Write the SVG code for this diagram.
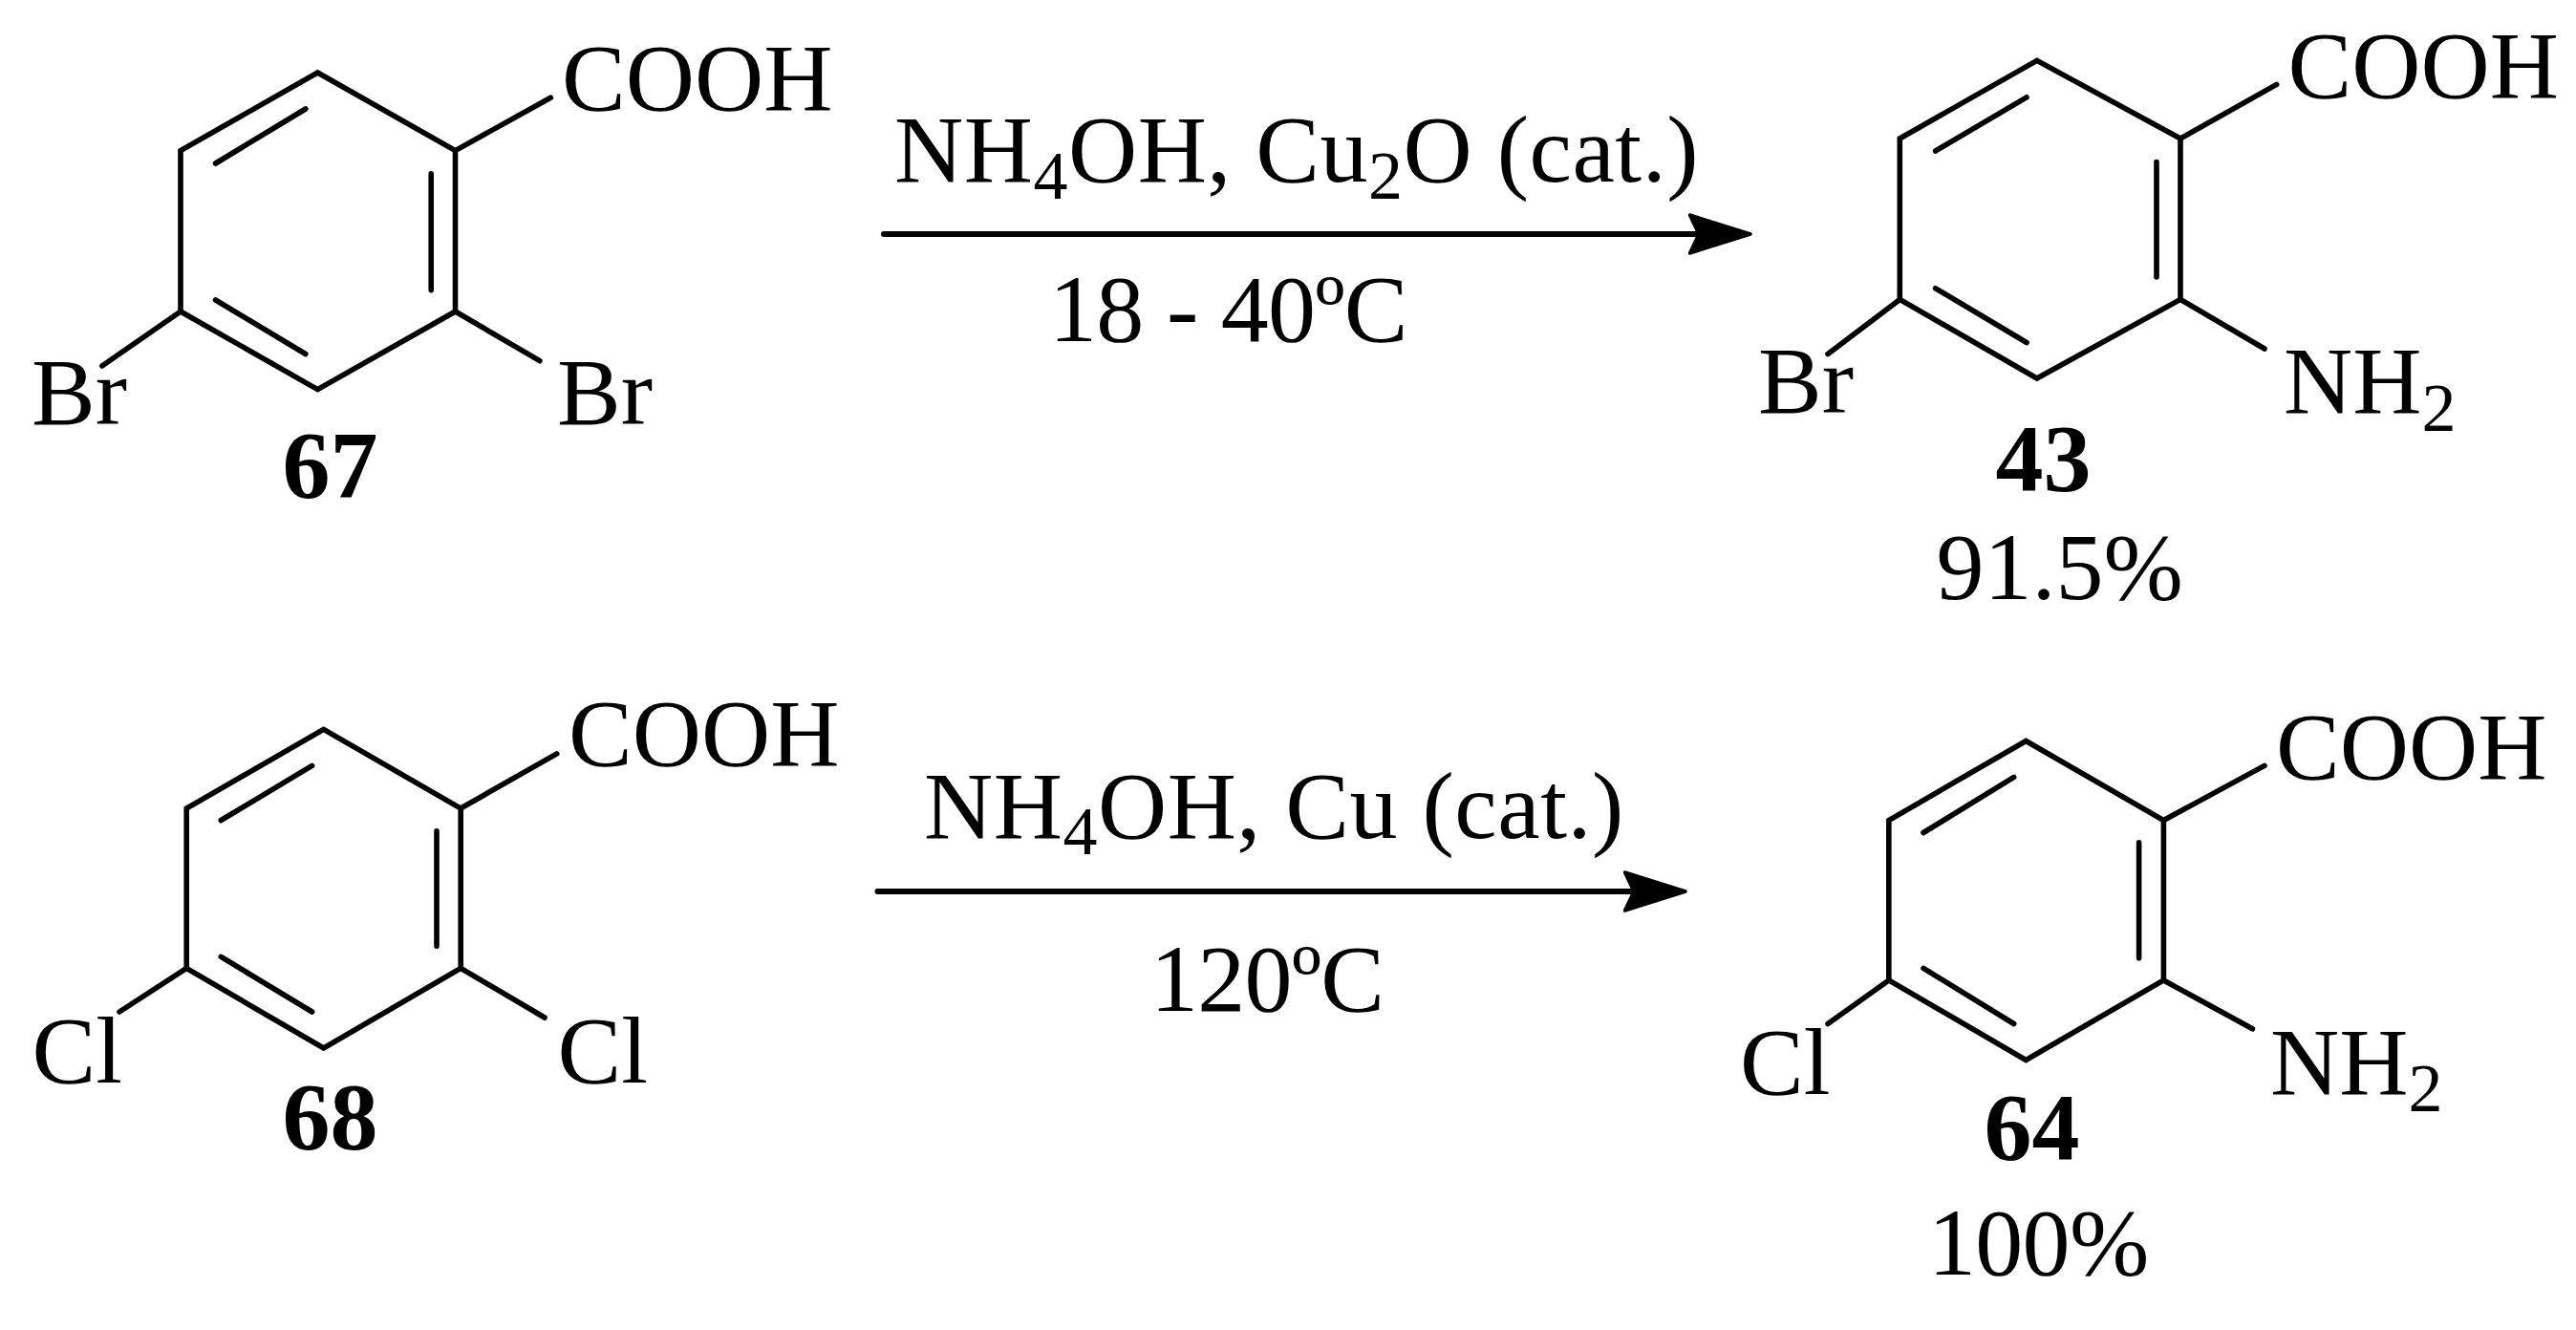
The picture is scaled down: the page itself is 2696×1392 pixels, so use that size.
<svg xmlns="http://www.w3.org/2000/svg" width="2696" height="1392" viewBox="0 0 2696 1392">
<style>
.bond{fill:none;stroke:#000;stroke-width:5.6;stroke-linecap:round;stroke-linejoin:miter}
.arrow{fill:none;stroke:#000;stroke-width:6;stroke-linecap:round}
text{font-family:"Liberation Serif","Times New Roman",serif;font-size:100px;fill:#000}
.b{font-weight:bold}
.s{font-size:72px}
.r{letter-spacing:.5px}
.t{letter-spacing:-.7px}
</style>
<defs>
<marker id="head" markerUnits="userSpaceOnUse" markerWidth="80" markerHeight="60" refX="11" refY="30" orient="auto" viewBox="0 0 80 60">
<path d="M1.5,10 L65,30 L1.5,50 L11,30 Z" fill="#000" stroke="#000" stroke-width="3.5" stroke-linejoin="round"/>
</marker>
</defs>
<rect width="2696" height="1392" fill="#fff"/>
<g id="connectors">
<line class="arrow" x1="925" y1="245" x2="1778" y2="245" marker-end="url(#head)"/>
<line class="arrow" x1="918.5" y1="933" x2="1710" y2="933" marker-end="url(#head)"/>
</g>
<g id="compound-67">
<path class="bond" d="M332.4,76 L476.5,157.6 L476.5,326 L332.4,407.6 L189,326 L189,157.6 Z"/>
<path class="bond" d="M319.8,114 L225.6,171 M451.2,181.7 L451.2,303.6 M225.6,314 L319.8,370.5 M476.5,157.6 L576.3,102.2 M189,326 L106.8,383 M476.5,326 L564.9,377.7"/>
<text x="588" y="115">COOH</text>
<text x="33" y="444">Br</text>
<text x="583" y="444">Br</text>
<text class="b" x="295.5" y="520">67</text>
</g>
<g id="reaction-1-labels">
<text class="r" x="936" y="190">NH<tspan class="s" dy="17.6">4</tspan><tspan dy="-17.6">OH, Cu</tspan><tspan class="s" dy="17.6">2</tspan><tspan dy="-17.6">O (cat.)</tspan></text>
<text class="t" x="1098" y="357">18 - 40ºC</text>
</g>
<g id="compound-43">
<path class="bond" d="M2131.8,63.4 L2282,145 L2282,313.4 L2131.8,396 L1988.3,313.4 L1988.3,145 Z"/>
<path class="bond" d="M2121,101.8 L2025.6,158 M2257,169.6 L2257,290 M2025.6,301.8 L2121,358.5 M2282,145 L2382.7,88.4 M1988.3,313.4 L1913,370.5 M2282,313.4 L2370,365"/>
<text x="2394.5" y="101.8">COOH</text>
<text x="1840" y="431.7">Br</text>
<text x="2390" y="431.7">NH<tspan class="s" dy="19">2</tspan></text>
<text class="b" x="2088.5" y="513.4">43</text>
<text x="2026.5" y="627">91.5%</text>
</g>
<g id="compound-68">
<path class="bond" d="M338.7,763.4 L482.2,846 L482.2,1013.4 L338.7,1097 L195.2,1013.4 L195.2,846 Z"/>
<path class="bond" d="M326.6,801.4 L231.3,858.5 M457,869.7 L457,990.2 M231.3,1001.4 L326.6,1059 M482.2,846 L582.7,788.9 M195.2,1013.4 L125,1059 M482.2,1013.4 L570,1065"/>
<text x="595" y="801.4">COOH</text>
<text x="33.5" y="1133">Cl</text>
<text x="583.5" y="1133">Cl</text>
<text class="b" x="295.5" y="1202">68</text>
</g>
<g id="reaction-2-labels">
<text class="r" x="967" y="877">NH<tspan class="s" dy="17">4</tspan><tspan dy="-17">OH, Cu (cat.)</tspan></text>
<text class="t" x="1204" y="1058">120ºC</text>
</g>
<g id="compound-64">
<path class="bond" d="M2120.3,775.5 L2264.4,858.5 L2264.4,1026 L2120.3,1109.4 L1976.8,1026 L1976.8,858.5 Z"/>
<path class="bond" d="M2107.7,813.4 L2013,871.5 M2238.6,881.7 L2238.6,1002.7 M2013,1013.4 L2107.7,1071.5 M2264.4,858.5 L2370,801.4 M1976.8,1026 L1913,1071.5 M2264.4,1026 L2357.4,1076.8"/>
<text x="2382" y="814.8">COOH</text>
<text x="1821" y="1145">Cl</text>
<text x="2376" y="1145">NH<tspan class="s" dy="18">2</tspan></text>
<text class="b" x="2076.5" y="1213.4">64</text>
<text class="t" x="2018" y="1334">100%</text>
</g>
</svg>
